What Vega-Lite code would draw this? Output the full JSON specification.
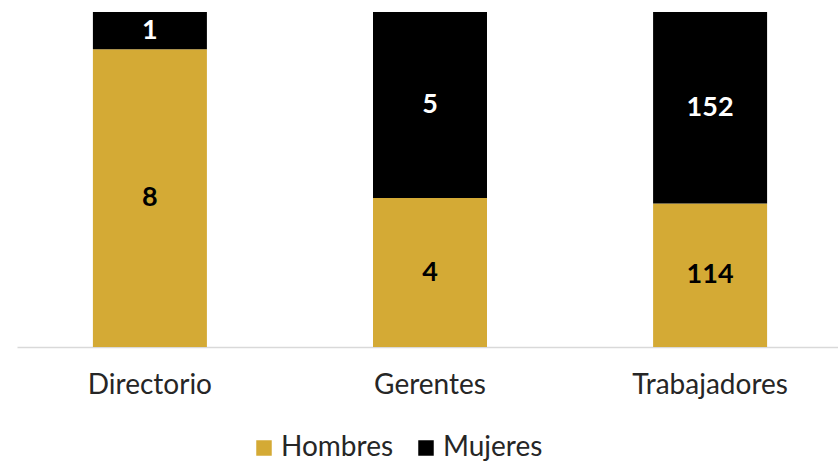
{
  "$schema": "https://vega.github.io/schema/vega-lite/v6.json",
  "width": 826,
  "height": 335,
  "autosize": "none",
  "padding": {"left": 17, "top": 12, "right": 0, "bottom": 118},
  "background": "white",
  "config": {"view": {"stroke": null}, "font": "Lato"},
  "data": {
    "values": [
      {"cat": "Directorio", "sex": "Hombres", "n": 8},
      {"cat": "Directorio", "sex": "Mujeres", "n": 1},
      {"cat": "Gerentes", "sex": "Hombres", "n": 4},
      {"cat": "Gerentes", "sex": "Mujeres", "n": 5},
      {"cat": "Trabajadores", "sex": "Hombres", "n": 114},
      {"cat": "Trabajadores", "sex": "Mujeres", "n": 152}
    ]
  },
  "transform": [
    {"stack": "n", "groupby": ["cat"], "sort": [{"field": "sex", "order": "ascending"}], "offset": "normalize", "as": ["y0", "y1"]},
    {"calculate": "(datum.y0 + datum.y1) / 2", "as": "ymid"}
  ],
  "encoding": {
    "x": {
      "field": "cat", "type": "nominal", "sort": ["Directorio", "Gerentes", "Trabajadores"],
      "scale": {"paddingInner": 0.593, "paddingOuter": 0.271},
      "axis": {"title": null, "labelAngle": 0, "labelFontSize": 28, "labelColor": "#262626", "labelPadding": 24, "ticks": false, "domainColor": "#d9d9d9", "domainWidth": 1.5}
    }
  },
  "layer": [
    {
      "mark": {"type": "bar"},
      "encoding": {
        "y": {"field": "y0", "type": "quantitative", "scale": {"domain": [0, 1]}, "axis": null},
        "y2": {"field": "y1"},
        "color": {
          "field": "sex", "type": "nominal",
          "scale": {"domain": ["Hombres", "Mujeres"], "range": ["#D4AA35", "#000000"]},
          "legend": {"title": null, "orient": "none", "legendX": 233, "legendY": 422, "direction": "horizontal", "symbolType": "square", "symbolSize": 240, "symbolStrokeWidth": 0, "labelFontSize": 28, "labelColor": "#262626", "columnPadding": 18, "symbolOffset": 0, "labelOffset": 3}
        }
      }
    },
    {
      "mark": {"type": "text", "fontSize": 27, "fontWeight": "bold"},
      "encoding": {
        "y": {"field": "ymid", "type": "quantitative"},
        "text": {"field": "n", "type": "quantitative"},
        "color": {"condition": {"test": "datum.sex === 'Mujeres'", "value": "white"}, "value": "black"}
      }
    }
  ]
}
